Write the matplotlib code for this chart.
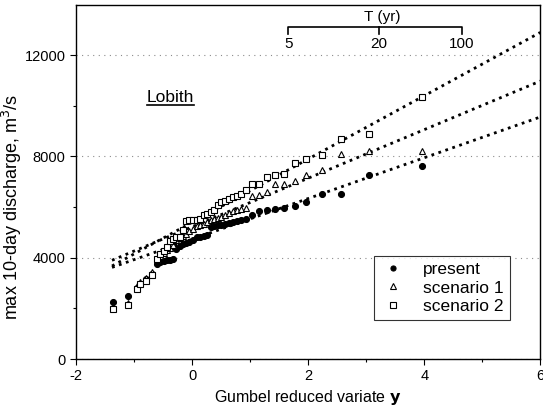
import matplotlib
matplotlib.use("Agg")
import matplotlib.pyplot as plt
import numpy as np

plt.rcParams['font.family'] = ['Liberation Sans', 'DejaVu Sans']
plt.rcParams['axes.unicode_minus'] = False

# Gumbel reduced variate (plotting positions), shared by all three series
y_red = [-1.37, -1.10, -0.95, -0.90, -0.79, -0.69, -0.61, -0.55, -0.49, -0.43,
         -0.38, -0.33, -0.27, -0.21, -0.16, -0.10, -0.05, 0.02, 0.08, 0.14,
         0.20, 0.26, 0.32, 0.38, 0.44, 0.50, 0.57, 0.64, 0.71, 0.78,
         0.85, 0.93, 1.03, 1.15, 1.29, 1.43, 1.58, 1.77, 1.97, 2.23,
         2.56, 3.04, 3.96]

# max 10-day discharge (m3/s)
present = [2240, 2480, 2820, 2980, 3160, 3360, 3760, 3820, 3880, 3900,
           3920, 3950, 4350, 4480, 4530, 4570, 4620, 4720, 4810, 4830,
           4860, 4900, 5220, 5270, 5290, 5310, 5340, 5380, 5420, 5460,
           5490, 5540, 5680, 5850, 5890, 5930, 5970, 6060, 6200, 6500,
           6530, 7250, 7610]
scen1 = [2060, 2220, 2900, 3060, 3220, 3420, 3900, 4050, 4200, 4300,
         4380, 4500, 4700, 4800, 4850, 4950, 5050, 5150, 5250, 5300,
         5350, 5420, 5480, 5520, 5560, 5620, 5700, 5780, 5830, 5880,
         5920, 5960, 6420, 6460, 6600, 6920, 6930, 7050, 7250, 7450,
         8110, 8210, 8230]
scen2 = [1960, 2120, 2780, 2950, 3100, 3300, 3950, 4150, 4280, 4410,
         4680, 4750, 4810, 4830, 5100, 5470, 5480, 5480, 5500, 5540,
         5670, 5740, 5800, 5900, 6065, 6200, 6260, 6330, 6400, 6450,
         6500, 6660, 6920, 6930, 7180, 7250, 7320, 7750, 7910, 8040,
         8700, 8900, 10350]

# fitted Gumbel lines: (intercept, slope)
fit_present = (4730, 805)
fit_scen1 = (5224, 959)
fit_scen2 = (5400, 1250)
fit_range = [-1.38, 6.0]

# return period scale on top
T_labels = ['5', '20', '100']
T_pos = [1.66, 3.22, 4.65]

fig = plt.figure(figsize=(5.43, 4.17), dpi=100)
ax = fig.add_axes([0.140, 0.139, 0.855, 0.850])

# fit lines
xl = np.array(fit_range)
for a, b in (fit_present, fit_scen1, fit_scen2):
    ax.plot(xl, a + b * xl, color='black', linestyle=':', lw=2.0, zorder=2)

ax.plot(y_red, present, 'o', color='black', ms=4.3, mew=0.8, ls='none',
        label='present', zorder=3)
ax.plot(y_red, scen1, '^', mfc='white', mec='black', ms=4.3, mew=0.8, ls='none',
        label='scenario 1', zorder=3)
ax.plot(y_red, scen2, 's', mfc='white', mec='black', ms=4.6, mew=0.8, ls='none',
        label='scenario 2', zorder=3)

ax.set_xlim(-2, 6)
ax.set_ylim(0, 14000)
ax.set_xticks([-2, 0, 2, 4, 6])
ax.set_xticks([-1, 1, 3, 5], minor=True)
ax.set_yticks([0, 4000, 8000, 12000])
ax.set_yticks([2000, 6000, 10000], minor=True)
ax.tick_params(axis='both', which='major', labelsize=10.5, direction='out', length=4, width=0.8)
ax.tick_params(axis='both', which='minor', direction='out', length=2.5, width=0.8)
ax.grid(axis='y', which='major', color='0.55', linestyle=(0, (1, 4)), lw=0.8)
for s in ax.spines.values():
    s.set_linewidth(1.0)

ax.set_xlabel('Gumbel reduced variate $\\mathbf{y}$', fontsize=11.5, labelpad=3)
ax.set_ylabel('max 10-day discharge, m$^3$/s', fontsize=13)
ax.yaxis.set_label_coords(-0.112, 0.43)

# station label
ax.text(-0.78, 10170, 'Lobith', fontsize=12.5, va='baseline', ha='left')
ax.plot([-0.78, 0.04], [10040, 10040], color='black', lw=1.2)

# return period bracket
yl, yt = 13120, 12830
ax.plot([T_pos[0], T_pos[0], T_pos[-1], T_pos[-1]], [yt, yl, yl, yt], color='black', lw=1.2)
ax.plot([T_pos[1], T_pos[1]], [yl, yt], color='black', lw=1.2)
for p, lab in zip(T_pos, T_labels):
    ax.text(p, 12720, lab, fontsize=11, ha='center', va='top')
ax.text(T_pos[1] + 0.05, 13230, 'T (yr)', fontsize=11, ha='center', va='bottom')

leg = ax.legend(loc='lower right', bbox_to_anchor=(0.953, 0.085), fontsize=12.5,
                frameon=True, fancybox=False, edgecolor='black', handletextpad=1.0,
                borderpad=0.35, labelspacing=0.2, handlelength=1.5, markerscale=0.85)
leg.get_frame().set_linewidth(0.8)

fig.savefig('out.png', dpi=100)
